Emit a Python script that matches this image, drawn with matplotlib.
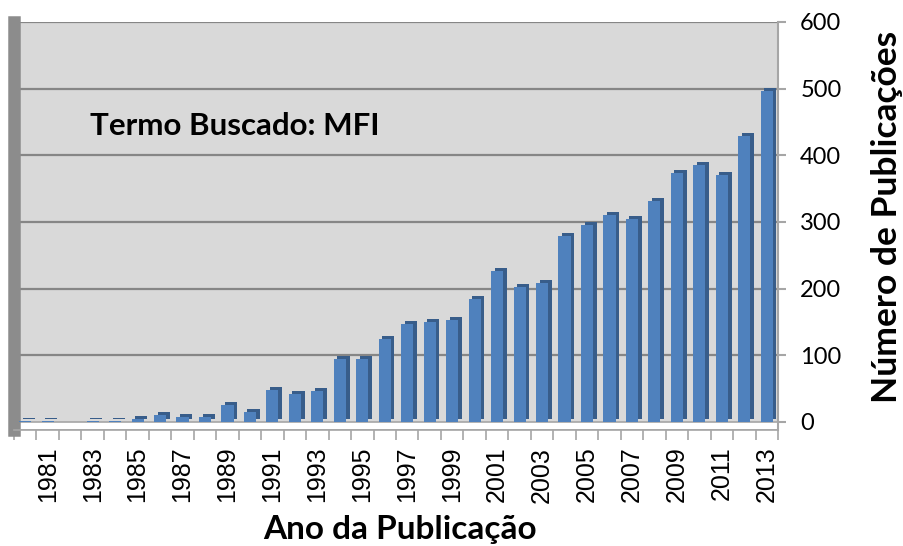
import matplotlib.pyplot as plt
import matplotlib.patheffects as pe
from matplotlib.ticker import MultipleLocator

# publications per year, search term MFI
years = list(range(1980, 2014))
counts = [2, 1, 0.5, 2, 2, 4, 10, 7, 7, 25,
          15, 48, 42, 47, 94, 95, 125, 147, 150, 153,
          185, 227, 202, 209, 279, 296, 311, 304, 331, 373,
          385, 370, 429, 497]
year_labels = [str(y) if y % 2 == 1 else "" for y in years]

front = "#4F81BD"
side = "#385D8A"
wall = "#D9D9D9"
grid_col = "#868686"

fig = plt.figure(figsize=(9.04, 5.46), dpi=100)
ax = fig.add_axes([14 / 904, (546 - 430) / 546, 764 / 904, 408 / 546])

x = list(range(len(years)))
ax.set_xlim(-0.5, len(years) - 0.5)
ax.set_ylim(-12, 600)

# back wall + floor
ax.set_facecolor("white")
ax.axhspan(0, 600, facecolor=wall, zorder=0)
ax.axhspan(-12, 0, facecolor="white", edgecolor="#A6A6A6", lw=1.2, zorder=0.5)
for v in range(100, 601, 100):
    ax.axhline(v, color=grid_col, lw=1.6, zorder=1)

bars = ax.bar(x, counts, width=0.54, color=front, zorder=3)
for b in bars:
    b.set_path_effects([pe.SimplePatchShadow(offset=(2.6, 2.2), shadow_rgbFace=side, alpha=1.0),
                        pe.Normal()])

ax.text(0.1, 0.745, "Termo Buscado: MFI", transform=ax.transAxes,
        fontsize=22.5, fontweight="bold", family="Lato", va="center", zorder=4)

# spines
ax.spines["top"].set_visible(False)
ax.spines["left"].set_color("#8C8C8C")
ax.spines["left"].set_linewidth(9)
ax.spines["right"].set_color("#A6A6A6")
ax.spines["right"].set_linewidth(1.5)
ax.spines["bottom"].set_color("#A6A6A6")
ax.spines["bottom"].set_linewidth(1.2)

# y axis on the right
ax.yaxis.tick_right()
ax.set_yticks(range(0, 601, 100))
ax.tick_params(axis="y", which="both", left=False, right=True, length=6,
               color="#A6A6A6", width=1.5, pad=10, labelsize=17)
for t in ax.get_yticklabels():
    t.set_family("Lato")
fig.text(887 / 904, 1 - 217 / 546, "Número de Publicações", rotation=90,
         fontsize=25.5, fontweight="bold", family="Lato", ha="center", va="center")

# x axis
ax.set_xticks(x)
ax.set_xticklabels(year_labels, rotation=90, fontsize=18, family="Liberation Sans")
ax.tick_params(axis="x", which="major", length=0, pad=12)
ax.xaxis.set_minor_locator(MultipleLocator(1, offset=0.5))
ax.tick_params(axis="x", which="minor", length=7, color="#A6A6A6", width=1.2)
fig.text(400 / 904, 1 - 529 / 546, "Ano da Publicação", fontsize=24,
         fontweight="bold", family="Lato", ha="center", va="center")

fig.savefig("out.png", dpi=100)
